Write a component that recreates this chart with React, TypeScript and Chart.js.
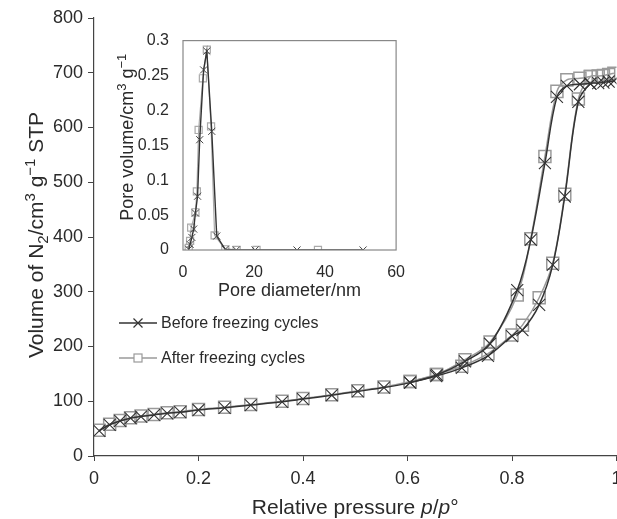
import React, { useEffect, useRef } from "react";
import { Chart, registerables } from "chart.js";
Chart.register(...registerables);

const FONT = '"Liberation Sans", Arial, Helvetica, sans-serif';

// ---- Main isotherm data ----
const adsP = [0.01, 0.03, 0.05, 0.07, 0.09, 0.115, 0.14, 0.165, 0.2, 0.25, 0.3, 0.36, 0.4, 0.455, 0.505, 0.555, 0.605, 0.655, 0.704, 0.754, 0.8, 0.82, 0.852, 0.878, 0.901, 0.927, 0.95, 0.965, 0.975, 0.985, 0.995];
const adsBefore = [46, 57, 64, 69, 72, 75, 78, 80, 84, 88, 93, 99, 104, 111, 118, 125, 134, 146, 161, 183, 219, 230, 276, 349, 474, 647, 680, 681, 682, 684, 685];
const adsAfter = [47, 58, 65, 70, 73, 76, 79, 81, 85, 89, 94, 100, 105, 112, 119, 126, 136, 149, 164, 187, 221, 239, 289, 352, 478, 652, 693, 694, 695, 697, 699];
const desP = [0.605, 0.656, 0.71, 0.758, 0.81, 0.836, 0.863, 0.886, 0.905, 0.93, 0.95];
const desBefore = [134, 148, 173, 205, 303, 395, 535, 656, 676, 679, 680];
const desAfter = [136, 149, 176, 208, 294, 397, 547, 666, 687, 690, 693];
const xTicks = [0, 0.2, 0.4, 0.6, 0.8, 1];
const yTicks = [0, 100, 200, 300, 400, 500, 600, 700, 800];
const legendLabels = ["Before freezing cycles", "After freezing cycles"];

// ---- Inset pore size distribution ----
const poreBeforeD = [1.6, 2.0, 2.5, 3.0, 3.5, 4.1, 4.7, 5.8, 6.7, 8.1, 9.5, 11.9, 15.0, 20.3, 32.1, 50.7];
const poreBeforeV = [0.001, 0.008, 0.018, 0.03, 0.053, 0.077, 0.158, 0.258, 0.285, 0.17, 0.02, 0.001, 0, 0, 0, 0];
const poreAfterD = [1.6, 2.0, 2.3, 3.5, 3.9, 4.4, 5.6, 6.7, 7.9, 8.9, 11.9, 15.1, 20.7, 38.0];
const poreAfterV = [0.003, 0.013, 0.032, 0.054, 0.084, 0.172, 0.246, 0.287, 0.177, 0.021, 0.001, 0, 0, 0];
const insetXTicks = [0, 20, 40, 60];
const insetYTicks = [0, 0.05, 0.1, 0.15, 0.2, 0.25, 0.3];

const DARK = "#333";
const GRAY = "#9a9a9a";
const TEXT = "#2a2a2a";

type Part = { t: string; size: number; dy?: number; italic?: boolean };

function drawRich(ctx: CanvasRenderingContext2D, parts: Part[], x: number, y: number) {
  let total = 0;
  const widths = parts.map((p) => {
    ctx.font = `${p.italic ? "italic " : ""}${p.size}px ${FONT}`;
    const w = ctx.measureText(p.t).width;
    total += w;
    return w;
  });
  let cx = x - total / 2;
  ctx.textAlign = "left";
  ctx.textBaseline = "alphabetic";
  parts.forEach((p, i) => {
    ctx.font = `${p.italic ? "italic " : ""}${p.size}px ${FONT}`;
    ctx.fillText(p.t, cx, y + (p.dy || 0));
    cx += widths[i];
  });
}

const zip = (xs: number[], ys: number[]) => xs.map((x, i) => ({ x, y: ys[i] }));

export default function App() {
  const mainRef = useRef<HTMLCanvasElement>(null);
  const insetRef = useRef<HTMLCanvasElement>(null);

  useEffect(() => {
    const mainPlugin = {
      id: "mainDecor",
      afterDraw(chart: any) {
        const ctx = chart.ctx as CanvasRenderingContext2D;
        const a = chart.chartArea;
        ctx.save();
        ctx.fillStyle = TEXT;
        // x title
        drawRich(
          ctx,
          [
            { t: "Relative pressure ", size: 21 },
            { t: "p", size: 21, italic: true },
            { t: "/", size: 21 },
            { t: "p", size: 21, italic: true },
            { t: "°", size: 21 },
          ],
          (a.left + a.right) / 2,
          514
        );
        // y title
        ctx.translate(43, 235);
        ctx.rotate(-Math.PI / 2);
        drawRich(
          ctx,
          [
            { t: "Volume of N", size: 21 },
            { t: "2", size: 15, dy: 5 },
            { t: "/cm", size: 21 },
            { t: "3", size: 15, dy: -8 },
            { t: " g", size: 21 },
            { t: "−1", size: 15, dy: -8 },
            { t: " STP", size: 21 },
          ],
          0,
          0
        );
        ctx.restore();

        // legend
        ctx.save();
        const rows = [
          { y: 323, color: DARK, marker: "x" },
          { y: 358, color: GRAY, marker: "rect" },
        ];
        rows.forEach((r, i) => {
          ctx.strokeStyle = r.color;
          ctx.lineWidth = 1.5;
          ctx.beginPath();
          ctx.moveTo(119, r.y);
          ctx.lineTo(157, r.y);
          ctx.stroke();
          ctx.lineWidth = 1.2;
          if (r.marker === "x") {
            const s = 4.5;
            ctx.beginPath();
            ctx.moveTo(138 - s, r.y - s);
            ctx.lineTo(138 + s, r.y + s);
            ctx.moveTo(138 - s, r.y + s);
            ctx.lineTo(138 + s, r.y - s);
            ctx.stroke();
          } else {
            ctx.fillStyle = "#fff";
            ctx.fillRect(134, r.y - 4, 8, 8);
            ctx.strokeRect(134, r.y - 4, 8, 8);
          }
          ctx.fillStyle = TEXT;
          ctx.font = `16px ${FONT}`;
          ctx.textAlign = "left";
          ctx.textBaseline = "middle";
          ctx.fillText(legendLabels[i], 161, r.y + 1);
        });
        ctx.restore();
      },
    };

    const main = new Chart(mainRef.current!, {
      type: "scatter",
      data: {
        datasets: [
          {
            label: "Before (adsorption)",
            data: zip(adsP, adsBefore),
            showLine: true,
            borderColor: DARK,
            borderWidth: 1.5,
            tension: 0.35,
            pointStyle: "crossRot",
            pointRadius: 8.5,
            pointBorderColor: DARK,
            pointBorderWidth: 1.1,
            pointBackgroundColor: "transparent",
          },
          {
            label: "Before (desorption)",
            data: zip(desP, desBefore),
            showLine: true,
            borderColor: DARK,
            borderWidth: 1.5,
            tension: 0.35,
            pointStyle: "crossRot",
            pointRadius: 8.5,
            pointBorderColor: DARK,
            pointBorderWidth: 1.1,
            pointBackgroundColor: "transparent",
          },
          {
            label: "After (adsorption)",
            data: zip(adsP, adsAfter),
            showLine: true,
            borderColor: GRAY,
            borderWidth: 1.5,
            tension: 0.35,
            pointStyle: "rect",
            pointRadius: 8.5,
            pointBorderColor: GRAY,
            pointBorderWidth: 1.5,
            pointBackgroundColor: "transparent",
          },
          {
            label: "After (desorption)",
            data: zip(desP, desAfter),
            showLine: true,
            borderColor: GRAY,
            borderWidth: 1.5,
            tension: 0.35,
            pointStyle: "rect",
            pointRadius: 8.5,
            pointBorderColor: GRAY,
            pointBorderWidth: 1.5,
            pointBackgroundColor: "transparent",
          },
        ],
      } as any,
      options: {
        animation: false,
        responsive: false,
        events: [],
        layout: { padding: { top: 18, right: 23.5, left: 0, bottom: 0 } },
        plugins: { legend: { display: false }, tooltip: { enabled: false } },
        scales: {
          x: {
            type: "linear",
            min: 0,
            max: 1,
            afterBuildTicks: (s: any) => {
              s.ticks = xTicks.map((v) => ({ value: v }));
            },
            afterFit: (s: any) => {
              s.height = 63;
            },
            ticks: {
              font: { family: FONT, size: 18 },
              color: TEXT,
              padding: 7,
              maxRotation: 0,
              autoSkip: false,
              callback: (v: any) => String(v),
            },
            grid: { drawOnChartArea: false, drawTicks: true, tickLength: 5, color: "#444" },
            border: { display: true, color: "#444", width: 1.2 },
          },
          y: {
            type: "linear",
            min: 0,
            max: 800,
            afterBuildTicks: (s: any) => {
              s.ticks = yTicks.map((v) => ({ value: v }));
            },
            afterFit: (s: any) => {
              s.width = 94;
            },
            ticks: {
              font: { family: FONT, size: 18 },
              color: TEXT,
              padding: 5,
              autoSkip: false,
              callback: (v: any) => String(v),
            },
            grid: { drawOnChartArea: false, drawTicks: true, tickLength: 6, color: "#444" },
            border: { display: true, color: "#444", width: 1.2 },
          },
        },
      } as any,
      plugins: [mainPlugin],
    });

    const insetPlugin = {
      id: "insetDecor",
      afterDraw(chart: any) {
        const ctx = chart.ctx as CanvasRenderingContext2D;
        const a = chart.chartArea;
        ctx.save();
        ctx.strokeStyle = "#888";
        ctx.lineWidth = 1.2;
        ctx.strokeRect(a.left, a.top, a.right - a.left, a.bottom - a.top);
        ctx.fillStyle = TEXT;
        drawRich(ctx, [{ t: "Pore diameter/nm", size: 18 }], (a.left + a.right) / 2, 271);
        ctx.translate(33, (a.top + a.bottom) / 2 - 8);
        ctx.rotate(-Math.PI / 2);
        drawRich(
          ctx,
          [
            { t: "Pore volume/cm", size: 18 },
            { t: "3", size: 13, dy: -7 },
            { t: " g", size: 18 },
            { t: "−1", size: 13, dy: -7 },
          ],
          0,
          0
        );
        ctx.restore();
      },
    };

    const inset = new Chart(insetRef.current!, {
      type: "scatter",
      data: {
        datasets: [
          {
            label: "Before",
            data: zip(poreBeforeD, poreBeforeV),
            showLine: true,
            borderColor: DARK,
            borderWidth: 1.4,
            tension: 0,
            pointStyle: "crossRot",
            pointRadius: 5,
            pointBorderColor: "#444",
            pointBorderWidth: 1,
            pointBackgroundColor: "transparent",
          },
          {
            label: "After",
            data: zip(poreAfterD, poreAfterV),
            showLine: true,
            borderColor: "#aaa",
            borderWidth: 1.2,
            tension: 0,
            pointStyle: "rect",
            pointRadius: 5,
            pointBorderColor: "#aaa",
            pointBorderWidth: 1.2,
            pointBackgroundColor: "transparent",
          },
        ],
      } as any,
      options: {
        animation: false,
        responsive: false,
        events: [],
        layout: { padding: { top: 15, right: 13, left: 0, bottom: 0 } },
        plugins: { legend: { display: false }, tooltip: { enabled: false } },
        scales: {
          x: {
            type: "linear",
            min: 0,
            max: 60,
            afterBuildTicks: (s: any) => {
              s.ticks = insetXTicks.map((v) => ({ value: v }));
            },
            afterFit: (s: any) => {
              s.height = 60;
            },
            ticks: {
              font: { family: FONT, size: 16 },
              color: TEXT,
              padding: 5,
              maxRotation: 0,
              autoSkip: false,
              callback: (v: any) => String(v),
            },
            grid: { display: false },
            border: { display: false },
          },
          y: {
            type: "linear",
            min: 0,
            max: 0.3,
            afterBuildTicks: (s: any) => {
              s.ticks = insetYTicks.map((v) => ({ value: v }));
            },
            afterFit: (s: any) => {
              s.width = 83;
            },
            ticks: {
              font: { family: FONT, size: 16 },
              color: TEXT,
              padding: 6,
              autoSkip: false,
              callback: (v: any) => String(Math.round(v * 100) / 100),
            },
            grid: { display: false },
            border: { display: false },
          },
        },
      } as any,
      plugins: [insetPlugin],
    });

    return () => {
      main.destroy();
      inset.destroy();
    };
  }, []);

  return (
    <div
      style={{
        position: "fixed",
        left: 0,
        top: 0,
        width: 640,
        height: 519,
        background: "#fff",
        overflow: "hidden",
      }}
    >
      <canvas ref={mainRef} width={640} height={519} style={{ position: "absolute", left: 0, top: 0 }} />
      <canvas ref={insetRef} width={310} height={285} style={{ position: "absolute", left: 100, top: 25 }} />
    </div>
  );
}
